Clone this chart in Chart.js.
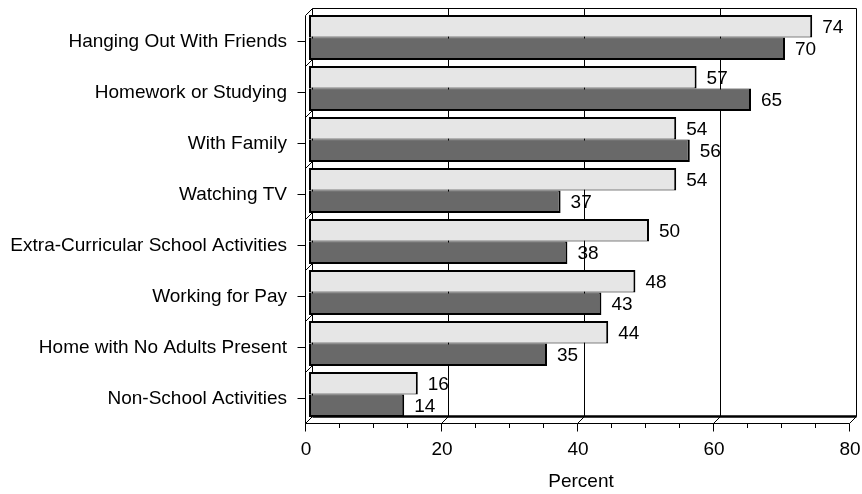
<!DOCTYPE html>
<html>
<head>
<meta charset="utf-8">
<script src="https://cdn.jsdelivr.net/npm/chart.js@4"></script>
<style>
  html, body { margin: 0; padding: 0; background: #fff; }
  #wrap { width: 862px; height: 494px; }
</style>
</head>
<body>
<div id="wrap"><canvas id="activityChart" width="862" height="494"></canvas></div>
<script>
var categories = [
    'Hanging Out With Friends',
    'Homework or Studying',
    'With Family',
    'Watching TV',
    'Extra-Curricular School Activities',
    'Working for Pay',
    'Home with No Adults Present',
    'Non-School Activities'
];
var seriesLight = [74, 57, 54, 54, 50, 48, 44, 16];
var seriesDark = [70, 65, 56, 37, 38, 43, 35, 14];
var xTicks = [0, 20, 40, 60, 80];

var FONT = "'Liberation Sans', Arial, sans-serif";
var DEPTH = 3.5;

// no extra room for overhanging tick labels, the layout padding handles it
function noScalePadding(scale) {
    scale.paddingTop = 0;
    scale.paddingBottom = 0;
    scale.paddingLeft = 0;
    scale.paddingRight = 0;
}

// walls, floor and axis lines drawn around the bars for the boxed 3-D look
var frame3d = {
    id: 'frame3d',
    beforeDatasetsDraw: function (chart) {
        var ctx = chart.ctx, a = chart.chartArea, x = chart.scales.x, y = chart.scales.y;
        var x0 = x.getPixelForValue(0), x80 = x.getPixelForValue(80);
        var bl = x0 + DEPTH, br = x80 + DEPTH, bt = a.top - DEPTH, bb = a.bottom - DEPTH;
        var fl = x0 - DEPTH, fr = x80 - DEPTH, ft = a.top + DEPTH, fb = a.bottom + DEPTH;
        ctx.save();
        ctx.strokeStyle = '#000';
        ctx.lineWidth = 1;
        // gridlines on back wall and floor
        [20, 40, 60].forEach(function (v) {
            var px = x.getPixelForValue(v);
            ctx.beginPath();
            ctx.moveTo(px + DEPTH, bt);
            ctx.lineTo(px + DEPTH, bb);
            ctx.moveTo(px - DEPTH, fb);
            ctx.lineTo(px + DEPTH, bb);
            ctx.stroke();
        });
        // back wall outline
        ctx.beginPath();
        ctx.moveTo(bl, bb);
        ctx.lineTo(bl, bt);
        ctx.lineTo(br, bt);
        ctx.lineTo(br, bb);
        ctx.stroke();
        // left wall
        ctx.beginPath();
        ctx.moveTo(fl, fb);
        ctx.lineTo(fl, ft);
        ctx.lineTo(bl, bt);
        var half = (y.getPixelForValue(1) - y.getPixelForValue(0)) / 2;
        for (var i = 0; i < categories.length - 1; i++) {
            var yb = y.getPixelForValue(i) + half;
            ctx.moveTo(fl, yb + DEPTH);
            ctx.lineTo(bl, yb - DEPTH);
        }
        ctx.stroke();
        // floor
        ctx.beginPath();
        ctx.moveTo(fl, fb);
        ctx.lineTo(fr, fb);
        ctx.lineTo(br, bb);
        ctx.moveTo(fl, fb);
        ctx.lineTo(bl, bb);
        ctx.stroke();
        ctx.lineWidth = 2.5;
        ctx.beginPath();
        ctx.moveTo(bl, bb);
        ctx.lineTo(br, bb);
        ctx.stroke();
        ctx.restore();
    },
    afterDatasetsDraw: function (chart) {
        var ctx = chart.ctx, a = chart.chartArea, x = chart.scales.x, y = chart.scales.y;
        var fb = a.bottom + DEPTH, fl = x.getPixelForValue(0) - DEPTH;
        ctx.save();
        ctx.strokeStyle = '#000';
        ctx.lineWidth = 1;
        ctx.beginPath();
        // value axis ticks, major every 20 and minor every 5
        for (var v = 0; v <= 80; v += 5) {
            var px = x.getPixelForValue(v) - DEPTH;
            ctx.moveTo(px, fb);
            ctx.lineTo(px, fb + (v % 20 === 0 ? 8 : 4.5));
        }
        // category ticks
        categories.forEach(function (c, i) {
            var py = y.getPixelForValue(i) + DEPTH + 0.5;
            ctx.moveTo(fl - 8, py);
            ctx.lineTo(fl, py);
        });
        ctx.stroke();
        // value labels at bar ends
        ctx.fillStyle = '#000';
        ctx.font = '19px ' + FONT;
        ctx.textAlign = 'left';
        ctx.textBaseline = 'middle';
        chart.data.datasets.forEach(function (ds, di) {
            chart.getDatasetMeta(di).data.forEach(function (bar, i) {
                ctx.fillText(String(ds.data[i]), bar.x + 10, bar.y + 1);
            });
        });
        ctx.restore();
    }
};

new Chart(document.getElementById('activityChart').getContext('2d'), {
    type: 'bar',
    data: {
        labels: categories,
        datasets: [
            {
                label: 'Series 1',
                data: seriesLight,
                backgroundColor: '#e6e6e6',
                borderColor: '#000',
                borderWidth: { top: 2, right: 2, bottom: 1, left: 2 },
                borderSkipped: false,
                categoryPercentage: 0.88,
                barPercentage: 1.0
            },
            {
                label: 'Series 2',
                data: seriesDark,
                backgroundColor: '#696969',
                borderColor: '#000',
                borderWidth: { top: 1, right: 2, bottom: 2, left: 2 },
                borderSkipped: false,
                categoryPercentage: 0.88,
                barPercentage: 1.0
            }
        ]
    },
    options: {
        indexAxis: 'y',
        responsive: false,
        animation: false,
        layout: { padding: { top: 12, right: 9, left: 0, bottom: 0 } },
        plugins: {
            legend: { display: false },
            tooltip: { enabled: false }
        },
        scales: {
            x: {
                min: 0,
                max: 80,
                afterBuildTicks: function (scale) {
                    scale.ticks = xTicks.map(function (v) { return { value: v }; });
                },
                afterFit: function (scale) { scale.height = 74; noScalePadding(scale); },
                grid: { display: false, drawTicks: false },
                border: { display: false },
                ticks: { color: '#000', font: { family: FONT, size: 19 }, padding: 18, labelOffset: -3, maxRotation: 0 },
                title: { display: true, text: 'Percent', color: '#000', font: { family: FONT, size: 19 }, padding: { top: 0, bottom: 1 } }
            },
            y: {
                afterFit: function (scale) { scale.width = 309; noScalePadding(scale); },
                grid: { display: false, drawTicks: false },
                border: { display: false },
                ticks: { color: '#000', font: { family: FONT, size: 19 }, padding: 22, labelOffset: 4 }
            }
        }
    },
    plugins: [frame3d]
});
</script>
</body>
</html>
